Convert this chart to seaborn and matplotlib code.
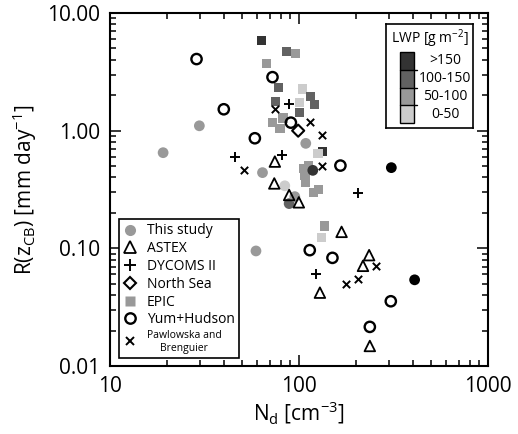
import numpy as np
import pandas as pd
import matplotlib
matplotlib.use("Agg")
import matplotlib.pyplot as plt
from matplotlib.lines import Line2D
from matplotlib.patches import Rectangle
import seaborn as sns

sns.set_style("white")
plt.rcParams['font.family'] = ['Open Sans', 'DejaVu Sans']
plt.rcParams['mathtext.default'] = 'regular'
for k in ['text.color', 'axes.labelcolor', 'xtick.color', 'ytick.color']:
    plt.rcParams[k] = 'black'

# ---------------- data ----------------
lwp_classes = ['>150', '100-150', '50-100', '0-50']
lwp_colors = {'>150': '#333333', '100-150': '#626262', '50-100': '#999999',
              '0-50': '#cccccc', 'n/a': '#000000'}

this_x = [19.1, 29.7, 59.2, 64.1, 108.6, 84.1, 88.7, 95.0, 118.3, 308, 409]
this_y = [0.65, 1.10, 0.095, 0.44, 0.78, 0.34, 0.24, 0.275, 0.46, 0.485, 0.054]
this_lwp = ['50-100', '50-100', '50-100', '50-100', '50-100', '0-50', '100-150',
            '50-100', '>150', 'n/a', 'n/a']

astex_x = [74.5, 74.0, 88.7, 99.8, 168, 129, 235, 218, 237]
astex_y = [0.546, 0.356, 0.284, 0.246, 0.138, 0.042, 0.0875, 0.071, 0.0148]

dycoms_x = [45.8, 80.8, 88.7, 123.7, 204]
dycoms_y = [0.60, 0.62, 1.68, 0.060, 0.297]

northsea_x = [99.0]
northsea_y = [1.0]

epic_x = [63.5, 86.0, 96.2, 67.3, 77.6, 104.4, 75.4, 115.5, 121, 101, 100.5, 72.4,
          82.4, 79.2, 133, 126, 106, 112.7, 107.6, 108.6, 118.9, 127.3, 137, 131.5]
epic_y = [5.85, 4.72, 4.51, 3.71, 2.34, 2.26, 1.77, 1.95, 1.66, 1.73, 1.43, 1.17,
          1.28, 1.05, 0.664, 0.643, 0.478, 0.50, 0.42, 0.361, 0.297, 0.317, 0.155, 0.123]
epic_lwp = ['>150', '100-150', '50-100', '50-100', '100-150', '0-50', '100-150',
            '100-150', '100-150', '0-50', '100-150', '50-100', '50-100', '50-100',
            '>150', '0-50', '50-100', '50-100', '50-100', '50-100', '50-100',
            '50-100', '50-100', '0-50']

yum_x = [28.7, 40.0, 58.4, 72.4, 90.6, 165.6, 114, 150.3, 306, 237]
yum_y = [4.06, 1.52, 0.862, 2.85, 1.17, 0.505, 0.0965, 0.083, 0.0355, 0.0215]

pawl_x = [51.1, 74.5, 114, 133, 133, 178, 205.5, 257]
pawl_y = [0.46, 1.52, 1.195, 0.92, 0.505, 0.0496, 0.0547, 0.071]

legend_labels = ['This study', 'ASTEX', 'DYCOMS II', 'North Sea', 'EPIC',
                 'Yum+Hudson', 'Pawlowska and\nBrenguier']

# ---------------- figure ----------------
fig = plt.figure(figsize=(5.18, 4.34), dpi=100)
ax = fig.add_axes([110/518, 1-366/434, 378/518, 353/434])

df_this = pd.DataFrame({'x': this_x, 'y': this_y, 'lwp': this_lwp})
df_epic = pd.DataFrame({'x': epic_x, 'y': epic_y, 'lwp': epic_lwp})

sns.scatterplot(data=df_epic, x='x', y='y', hue='lwp', palette=lwp_colors,
                marker='s', s=45, edgecolor='none', linewidth=0, ax=ax, legend=False, zorder=3)
sns.scatterplot(data=df_this, x='x', y='y', hue='lwp', palette=lwp_colors,
                marker='o', s=60, edgecolor='none', linewidth=0, ax=ax, legend=False, zorder=3)
sns.scatterplot(x=astex_x, y=astex_y, marker='^', s=58, facecolors='none',
                edgecolor='black', linewidth=1.3, ax=ax, legend=False, zorder=4)
sns.scatterplot(x=dycoms_x, y=dycoms_y, marker='+', s=60, color='black',
                linewidth=1.4, ax=ax, legend=False, zorder=4)
sns.scatterplot(x=northsea_x, y=northsea_y, marker='D', s=38, facecolors='none',
                edgecolor='black', linewidth=1.5, ax=ax, legend=False, zorder=4)
sns.scatterplot(x=yum_x, y=yum_y, marker='o', s=55, facecolors='none',
                edgecolor='black', linewidth=1.7, ax=ax, legend=False, zorder=4)
sns.scatterplot(x=pawl_x, y=pawl_y, marker='x', s=28, color='black',
                linewidth=1.4, ax=ax, legend=False, zorder=4)

ax.set_xscale('log')
ax.set_yscale('log')
ax.set_xlim(10, 1000)
ax.set_ylim(0.01, 10)
ax.set_xticks([10, 100, 1000])
ax.set_xticklabels(['10', '100', '1000'])
ax.set_yticks([0.01, 0.1, 1, 10])
ax.set_yticklabels(['0.01', '0.10', '1.00', '10.00'])
ax.tick_params(which='both', direction='in', top=True, right=True, bottom=True, left=True,
               color='black', width=1.1)
ax.tick_params(which='major', length=8, labelsize=15, pad=7)
ax.tick_params(which='minor', length=4)
for sp in ax.spines.values():
    sp.set_linewidth(1.5)
    sp.set_color('black')
ax.set_xlabel('N$_d$ [cm$^{-3}$]', fontsize=15, labelpad=2)
ax.set_ylabel('R(z$_{CB}$) [mm day$^{-1}$]', fontsize=15, labelpad=6)

# marker legend
handles = [
    Line2D([], [], ls='none', marker='o', ms=8, mfc='#999999', mec='none'),
    Line2D([], [], ls='none', marker='^', ms=8, mfc='none', mec='black', mew=1.3),
    Line2D([], [], ls='none', marker='+', ms=8.5, color='black', mew=1.4),
    Line2D([], [], ls='none', marker='D', ms=6.5, mfc='none', mec='black', mew=1.5),
    Line2D([], [], ls='none', marker='s', ms=7, mfc='#999999', mec='none'),
    Line2D([], [], ls='none', marker='o', ms=7.5, mfc='none', mec='black', mew=1.7),
    Line2D([], [], ls='none', marker='x', ms=5.5, color='black', mew=1.4),
]
leg = ax.legend(handles, legend_labels, loc='lower left', bbox_to_anchor=(0.024, 0.023),
                borderaxespad=0, fancybox=False, framealpha=1, edgecolor='black',
                fontsize=10, handlelength=1.0, handletextpad=0.7, labelspacing=0.2,
                borderpad=0.3)
leg.get_frame().set_linewidth(1.2)
last = leg.get_texts()[-1]
last.set_fontsize(7.5)
last.set_multialignment('center')

# LWP legend box
lax = fig.add_axes([386/518, 1-128/434, 87/518, 104/434])
lax.set_xlim(0, 87)
lax.set_ylim(104, 0)
lax.set_xticks([])
lax.set_yticks([])
for sp in lax.spines.values():
    sp.set_linewidth(1.2)
    sp.set_color('black')
lax.text(44, 15, 'LWP [g m$^{-2}$]', ha='center', va='center', fontsize=10)
row_h = 17.75
for i, cls in enumerate(lwp_classes):
    y0 = 28 + i * row_h
    lax.add_patch(Rectangle((13.5, y0), 14, row_h, facecolor=lwp_colors[cls],
                            edgecolor='none'))
    lax.text(59, y0 + row_h / 2, cls, ha='center', va='center', fontsize=10)
    if i > 0:
        lax.plot([13.5, 30.5], [y0, y0], color='black', lw=1)
lax.add_patch(Rectangle((13.5, 28), 14, 4 * row_h, facecolor='none', edgecolor='black', lw=1))

fig.savefig('out.png', dpi=100)
